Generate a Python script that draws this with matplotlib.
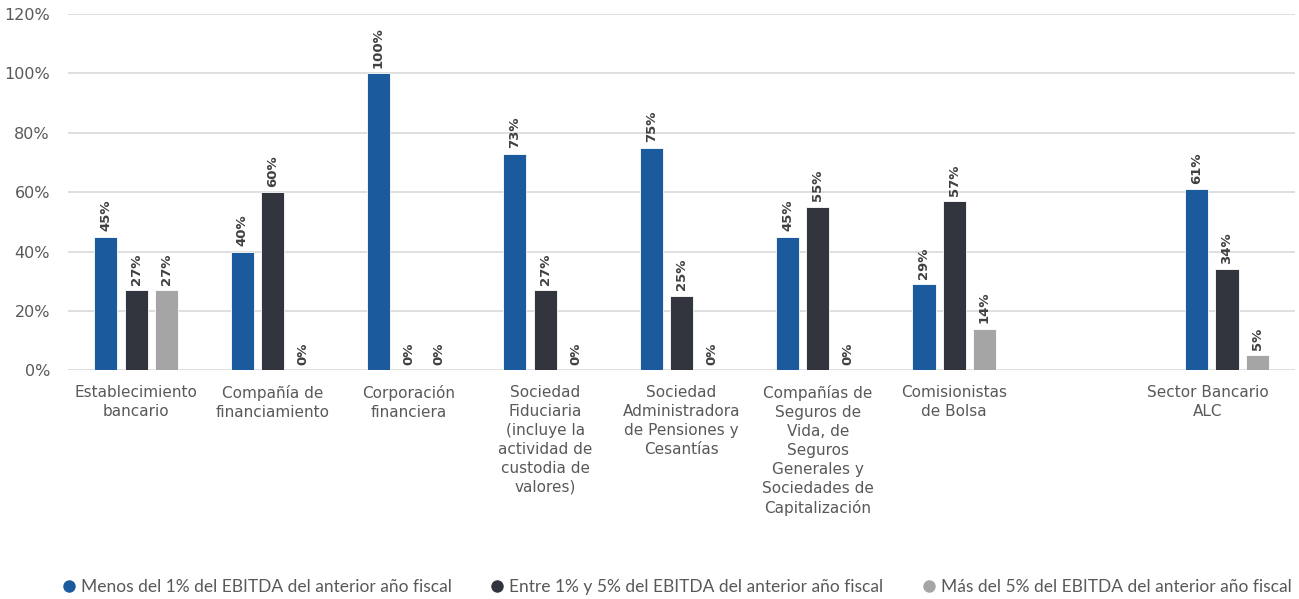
import numpy as np
import matplotlib.pyplot as plt
import matplotlib.transforms as mtransforms
from matplotlib.lines import Line2D

# categories (empty slot before the last group)
categories = ["Establecimiento\nbancario", "Compañía de\nfinanciamiento",
              "Corporación\nfinanciera",
              "Sociedad\nFiduciaria\n(incluye la\nactividad de\ncustodia de\nvalores)",
              "Sociedad\nAdministradora\nde Pensiones y\nCesantías",
              "Compañías de\nSeguros de\nVida, de\nSeguros\nGenerales y\nSociedades de\nCapitalización",
              "Comisionistas\nde Bolsa", "", "Sector Bancario\nALC"]
menos_1 = [0.45, 0.40, 1.00, 0.73, 0.75, 0.45, 0.29, None, 0.61]
entre_1_5 = [0.27, 0.60, 0.00, 0.27, 0.25, 0.55, 0.57, None, 0.34]
mas_5 = [0.27, 0.00, 0.00, 0.00, 0.00, 0.00, 0.14, None, 0.05]
labels_menos = ["45%", "40%", "100%", "73%", "75%", "45%", "29%", "", "61%"]
labels_entre = ["27%", "60%", "0%", "27%", "25%", "55%", "57%", "", "34%"]
labels_mas = ["27%", "0%", "0%", "0%", "0%", "0%", "14%", "", "5%"]

series_names = ["Menos del 1% del EBITDA del anterior año fiscal",
                "Entre 1% y 5% del EBITDA del anterior año fiscal",
                "Más del 5% del EBITDA del anterior año fiscal"]
colors = ["#1B5A9C", "#32353D", "#A5A5A5"]
text_col = "#595959"

plt.rcParams['font.family'] = ['DejaVu Sans']

fig = plt.figure(figsize=(12.99, 5.99), dpi=100)
ax = fig.add_axes((0.0523, 0.382, 0.9447, 0.5944))

x = np.arange(len(categories))
w = 0.17
step = 0.222
series = [menos_1, entre_1_5, mas_5]
series_labels = [labels_menos, labels_entre, labels_mas]

for k, (vals, labs) in enumerate(zip(series, series_labels)):
    for i, v in enumerate(vals):
        if v is None:
            continue
        xpos = x[i] + (k - 1) * step
        if v > 0:
            ax.bar(xpos, v, width=w, color=colors[k], edgecolor="white",
                   linewidth=0.6, zorder=3)
        ax.annotate(labs[i], (xpos, v), xytext=(0, 4), textcoords="offset points",
                    rotation=90, ha="center", va="bottom", fontsize=9.5,
                    fontweight="bold", color="#404040", zorder=4)

ax.set_xlim(-0.5, len(categories) - 0.5)
ax.set_ylim(0, 1.2)
ax.set_yticks(np.arange(0, 1.21, 0.2))
ax.set_yticklabels([f"{int(round(t * 100))}%" for t in np.arange(0, 1.21, 0.2)],
                   fontsize=11.5, color=text_col)
ax.set_xticks(x)
ax.set_xticklabels(categories, fontsize=11, color=text_col, linespacing=1.32,
                   va="top")
ax.tick_params(axis="both", length=0)
ax.tick_params(axis="y", pad=13)
ax.tick_params(axis="x", pad=11)

# last label sits a bit left of its group
lbl = ax.get_xticklabels()[-1]
lbl.set_transform(lbl.get_transform() + mtransforms.ScaledTranslation(-19 / 100, 0, fig.dpi_scale_trans))

ax.grid(axis="y", color="#D9D9D9", linewidth=1.2, zorder=0)
ax.set_axisbelow(True)
for s in ax.spines.values():
    s.set_visible(False)

handles = [Line2D([0], [0], marker="o", color="w", markerfacecolor=c,
                  markersize=10, linestyle="") for c in colors]
fig.legend(handles, series_names, loc="center", bbox_to_anchor=(0.521, 0.02),
           ncol=3, frameon=False, handlelength=0.8, handletextpad=0.3,
           columnspacing=2.2, labelcolor=text_col,
           prop={"family": "Lato", "size": 12.5})

fig.savefig("out.png", dpi=100)
